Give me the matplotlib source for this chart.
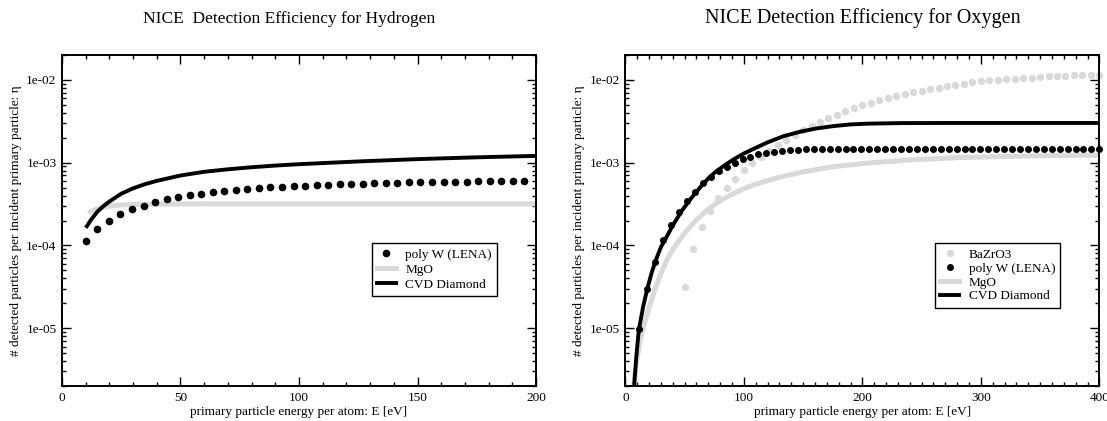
import numpy as np
import matplotlib
matplotlib.use("Agg")
import matplotlib.pyplot as plt
from matplotlib.ticker import MultipleLocator, LogLocator, FuncFormatter, NullFormatter

plt.rcParams['font.family'] = ['Liberation Serif', 'DejaVu Serif']

# ---- Hydrogen panel ----
h_w_energy = [10.0, 14.9, 19.7, 24.6, 29.5, 34.4, 39.2, 44.1, 49.0, 53.8,
              58.7, 63.6, 68.4, 73.3, 78.2, 83.1, 87.9, 92.8, 97.7, 102.5,
              107.4, 112.3, 117.1, 122.0, 126.9, 131.8, 136.6, 141.5, 146.4, 151.2,
              156.1, 161.0, 165.8, 170.7, 175.6, 180.5, 185.3, 190.2, 195.1]
h_w_eta = [1.13e-4, 1.59e-4, 2.0e-4, 2.4e-4, 2.72e-4, 3.03e-4, 3.33e-4, 3.6e-4, 3.85e-4, 4.05e-4,
           4.23e-4, 4.39e-4, 4.54e-4, 4.67e-4, 4.8e-4, 4.91e-4, 5.02e-4, 5.11e-4, 5.2e-4, 5.28e-4,
           5.35e-4, 5.42e-4, 5.48e-4, 5.54e-4, 5.59e-4, 5.64e-4, 5.69e-4, 5.73e-4, 5.77e-4, 5.8e-4,
           5.83e-4, 5.86e-4, 5.89e-4, 5.91e-4, 5.93e-4, 5.95e-4, 5.97e-4, 5.98e-4, 6.0e-4]

h_mgo_energy = [12, 14, 17, 20, 25, 30, 40, 60, 100, 150, 200]
h_mgo_eta = [2.55e-4, 2.72e-4, 2.88e-4, 2.98e-4, 3.08e-4, 3.13e-4, 3.16e-4, 3.18e-4, 3.18e-4, 3.18e-4, 3.18e-4]

h_cvd_energy = [10.5, 12.5, 15, 17.5, 20, 25, 30, 35, 40, 50, 60, 70, 80, 90, 100, 125, 150, 175, 200]
h_cvd_eta = [1.71e-4, 2.09e-4, 2.57e-4, 2.99e-4, 3.39e-4, 4.22e-4, 4.9e-4, 5.5e-4, 6.03e-4, 7.0e-4,
             7.76e-4, 8.32e-4, 8.81e-4, 9.23e-4, 9.59e-4, 1.035e-3, 1.104e-3, 1.161e-3, 1.208e-3]

# ---- Oxygen panel ----
o_bzo_energy = [50, 57.1, 64.3, 71.4, 78.6, 85.7, 92.9, 100, 107.1, 114.3,
                121.4, 128.6, 135.7, 142.9, 150, 157.1, 164.3, 171.4, 178.6, 185.7,
                192.9, 200, 207.1, 214.3, 221.4, 228.6, 235.7, 242.9, 250, 257.1,
                264.3, 271.4, 278.6, 285.7, 292.9, 300, 307.1, 314.3, 321.4, 328.6,
                335.7, 342.9, 350, 357.1, 364.3, 371.4, 378.6, 385.7, 392.9, 400]
o_bzo_eta = [3.12e-5, 9.06e-5, 1.65e-4, 2.62e-4, 3.75e-4, 4.99e-4, 6.4e-4, 8.14e-4, 9.8e-4, 1.18e-3,
             1.39e-3, 1.63e-3, 1.9e-3, 2.18e-3, 2.47e-3, 2.81e-3, 3.14e-3, 3.47e-3, 3.81e-3, 4.18e-3,
             4.58e-3, 4.93e-3, 5.26e-3, 5.67e-3, 5.99e-3, 6.33e-3, 6.75e-3, 7.08e-3, 7.41e-3, 7.76e-3,
             8.06e-3, 8.43e-3, 8.75e-3, 9.0e-3, 9.33e-3, 9.6e-3, 9.86e-3, 1.01e-2, 1.02e-2, 1.04e-2,
             1.06e-2, 1.07e-2, 1.09e-2, 1.11e-2, 1.12e-2, 1.13e-2, 1.14e-2, 1.15e-2, 1.15e-2, 1.16e-2]

o_w_energy = [11.9, 18.6, 25.3, 32.0, 38.7, 45.4, 52.0, 58.7, 65.4, 72.1,
              78.8, 85.5, 92.2, 98.9, 105.6, 112.3, 118.9, 125.6, 132.3, 139.0,
              145.7, 152.4, 159.1, 165.8, 172.5, 179.2, 185.8, 192.5, 199.2, 205.9,
              212.6, 219.3, 226.0, 232.7, 239.4, 246.1, 252.7, 259.4, 266.1, 272.8,
              279.5, 286.2, 292.9, 299.6, 306.3, 313.0, 319.6, 326.3, 333.0, 339.7,
              346.4, 353.1, 359.8, 366.5, 373.2, 379.9, 386.5, 393.2, 399.9]
o_w_eta = [9.86e-6, 3.01e-5, 6.37e-5, 1.15e-4, 1.77e-4, 2.57e-4, 3.48e-4, 4.47e-4, 5.64e-4, 6.71e-4,
           7.86e-4, 8.93e-4, 9.9e-4, 1.1e-3, 1.18e-3, 1.26e-3, 1.31e-3, 1.35e-3, 1.39e-3, 1.42e-3,
           1.44e-3, 1.46e-3, 1.47e-3, 1.48e-3, 1.48e-3, 1.48e-3, 1.48e-3, 1.48e-3, 1.48e-3, 1.48e-3,
           1.48e-3, 1.48e-3, 1.48e-3, 1.48e-3, 1.48e-3, 1.48e-3, 1.48e-3, 1.48e-3, 1.48e-3, 1.48e-3,
           1.48e-3, 1.48e-3, 1.48e-3, 1.48e-3, 1.48e-3, 1.48e-3, 1.48e-3, 1.48e-3, 1.48e-3, 1.48e-3,
           1.48e-3, 1.48e-3, 1.48e-3, 1.48e-3, 1.48e-3, 1.48e-3, 1.48e-3, 1.48e-3, 1.48e-3]

o_mgo_energy = [6.5, 7, 10, 12.5, 15, 20, 25, 30, 35, 40, 50, 60, 70, 80, 90, 100, 110,
                130, 150, 175, 200, 240, 280, 320, 360, 400]
o_mgo_eta = [1.5e-6, 2.0e-6, 4.47e-6, 7.08e-6, 1.0e-5, 1.78e-5, 2.95e-5, 4.57e-5, 6.61e-5, 8.91e-5,
             1.41e-4, 2.04e-4, 2.75e-4, 3.47e-4, 4.17e-4, 4.84e-4, 5.5e-4,
             6.68e-4, 7.76e-4, 8.91e-4, 9.77e-4, 1.08e-3, 1.15e-3, 1.19e-3, 1.22e-3, 1.23e-3]

o_cvd_energy = [7.0, 7.4, 9.3, 11.3, 15, 18.6, 22, 25.4, 30, 33.5, 40, 47.7, 55, 63, 70, 77, 85, 92,
                100, 110, 120, 133.5, 147.6, 161.7, 175.8, 190, 204, 232, 280, 400]
o_cvd_eta = [1.51e-6, 2.0e-6, 4.57e-6, 9.33e-6, 1.82e-5, 3.02e-5, 4.57e-5, 6.46e-5, 9.55e-5, 1.17e-4,
             1.74e-4, 2.63e-4, 3.63e-4, 5.01e-4, 6.46e-4, 7.94e-4, 9.55e-4, 1.11e-3,
             1.29e-3, 1.51e-3, 1.76e-3, 2.09e-3, 2.37e-3, 2.6e-3, 2.77e-3, 2.9e-3, 2.96e-3, 3.01e-3, 3.02e-3, 3.02e-3]

GRAY = '#d9d9d9'
FS = 9.5


def style_axis(ax, xmax, major, title, title_size):
    ax.set_yscale('log')
    ax.set_xlim(0, xmax)
    ax.set_ylim(2e-6, 2e-2)
    ax.xaxis.set_major_locator(MultipleLocator(major))
    ax.xaxis.set_minor_locator(MultipleLocator(10))
    ax.yaxis.set_major_locator(LogLocator(base=10, numticks=10))
    ax.yaxis.set_minor_locator(LogLocator(base=10, subs=np.arange(2, 10), numticks=20))
    ax.yaxis.set_major_formatter(FuncFormatter(lambda v, p: f"{v:.0e}"))
    ax.yaxis.set_minor_formatter(NullFormatter())
    ax.tick_params(which='both', direction='in', top=True, right=True, labelsize=FS, width=1)
    ax.tick_params(which='major', length=6.5, pad=4)
    ax.tick_params(which='minor', length=3.2)
    for s in ax.spines.values():
        s.set_linewidth(1.4)
    ax.set_xlabel('primary particle energy per atom: E [eV]', fontsize=FS, labelpad=2)
    ax.set_ylabel('# detected particles per incident primary particle: η', fontsize=FS, labelpad=3)
    ax.set_title(title, fontsize=title_size, pad=23)


def add_legend(ax, handles, spacing):
    leg = ax.legend(handles=handles, loc='upper right', bbox_to_anchor=(0.918, 0.431),
                    borderaxespad=0, fontsize=FS, fancybox=False, framealpha=1,
                    edgecolor='black', handlelength=1.45, handletextpad=0.7,
                    labelspacing=spacing, borderpad=0.4)
    leg.get_frame().set_linewidth(1.0)


fig = plt.figure(figsize=(11.07, 4.21), dpi=100)
ax1 = fig.add_axes([0.0560, 0.0831, 0.4282, 0.7862])
ax2 = fig.add_axes([0.5649, 0.0831, 0.4282, 0.7862])

# Hydrogen
l_mgo, = ax1.plot(h_mgo_energy, h_mgo_eta, color=GRAY, lw=3.6, label='MgO', zorder=2)
l_cvd, = ax1.plot(h_cvd_energy, h_cvd_eta, color='black', lw=2.8, label='CVD Diamond', zorder=3)
p_w, = ax1.plot(h_w_energy, h_w_eta, 'o', color='black', ms=4.5, label='poly W (LENA)', zorder=4)
style_axis(ax1, 200, 50, 'NICE  Detection Efficiency for Hydrogen', 12.5)
ax1.title.set_x(0.48)
add_legend(ax1, [p_w, l_mgo, l_cvd], 0.2)

# Oxygen
m_mgo, = ax2.plot(o_mgo_energy, o_mgo_eta, color=GRAY, lw=3.6, label='MgO', zorder=2)
m_bzo, = ax2.plot(o_bzo_energy, o_bzo_eta, 'o', color=GRAY, ms=4.3, label='BaZrO3', zorder=2.5, clip_on=False)
m_cvd, = ax2.plot(o_cvd_energy, o_cvd_eta, color='black', lw=2.8, label='CVD Diamond', zorder=3)
m_w, = ax2.plot(o_w_energy, o_w_eta, 'o', color='black', ms=4.0, label='poly W (LENA)', zorder=4, clip_on=False)
style_axis(ax2, 400, 100, 'NICE Detection Efficiency for Oxygen', 14.5)
add_legend(ax2, [m_bzo, m_w, m_mgo, m_cvd], 0.12)

fig.savefig('out.png', dpi=100)
